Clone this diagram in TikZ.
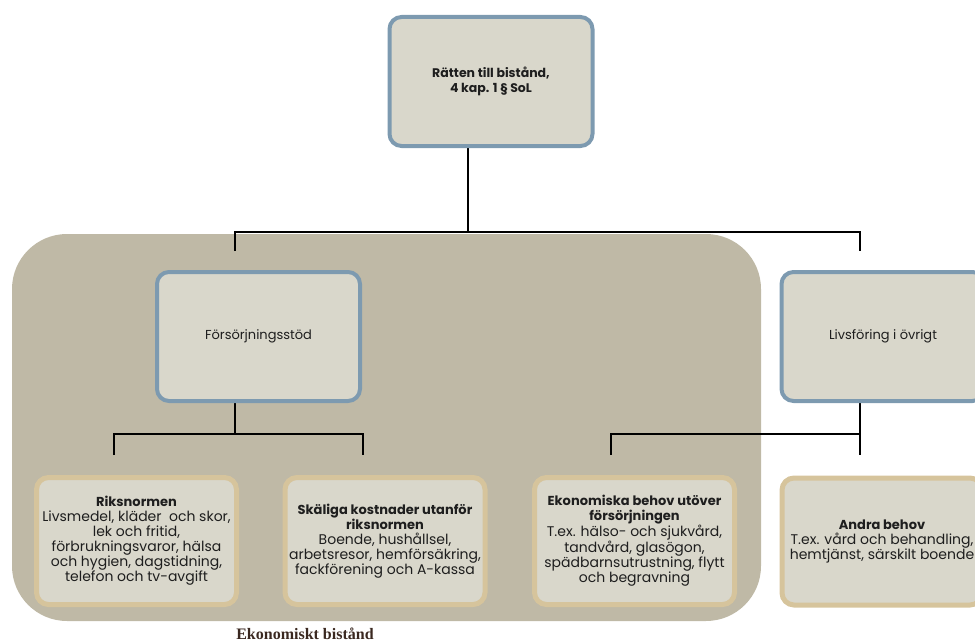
\documentclass[tikz,border=0pt]{standalone}
\usepackage{fontspec}
\setmainfont{Poppins}
\newfontfamily\labelfont{Liberation Serif}
\definecolor{bgc}{HTML}{BFB9A6}
\definecolor{boxfill}{HTML}{D9D7CB}
\definecolor{blueline}{HTML}{7D9AB0}
\definecolor{goldline}{HTML}{D6C49C}
\definecolor{txt}{HTML}{1E1E1E}
\definecolor{lbl}{HTML}{3A2820}
\pgfdeclarelayer{back}
\pgfsetlayers{back,main}
\newcommand{\hd}[1]{{\fontsize{13}{15}\selectfont\bfseries #1}}
\begin{document}
\begin{tikzpicture}[x=1pt,y=-1pt,
  bluebox/.style={draw=blueline, line width=4pt, fill=boxfill, rounded corners=12pt,
    minimum width=203pt, minimum height=129pt, inner sep=0pt, align=center, text=txt,
    font=\fontsize{13}{15}\selectfont},
  goldbox/.style={draw=goldline, line width=5pt, fill=boxfill, rounded corners=12pt,
    minimum width=200pt, minimum height=127pt, inner sep=0pt, align=center, text=txt,
    font=\fontsize{14}{15}\selectfont},
  conn/.style={draw=black, line width=1.5pt}]
\useasboundingbox (0,0) rectangle (975,642);
\clip (0,0) rectangle (975,642);

\node[bluebox, font=\bfseries\fontsize{12.5}{15.5}\selectfont] (top) at (491,81.5) {Rätten till bistånd,\\4 kap. 1 § SoL};
\node[bluebox] (fs) at (258.5,336.5) {Försörjningsstöd};
\node[bluebox] (lf) at (883,336.5) {Livsföring i övrigt};

\node[goldbox] (rn) at (136.5,541) {\hd{Riksnormen}\\Livsmedel, kläder\ \ och skor,\\lek och fritid,\\förbrukningsvaror, hälsa\\och hygien, dagstidning,\\telefon och tv-avgift};
\node[goldbox] (sk) at (385,541) {\hd{Skäliga kostnader utanför}\\\hd{riksnormen}\\Boende, hushållsel,\\arbetsresor, hemförsäkring,\\fackförening och A-kassa};
\node[goldbox] (eb) at (634.5,541) {\hd{Ekonomiska behov utöver}\\\hd{försörjningen}\\T.ex. hälso- och sjukvård,\\tandvård, glasögon,\\spädbarnsutrustning, flytt\\och begravning};
\node[goldbox] (ab) at (882,541.5) {\hd{Andra behov}\\T.ex. vård och behandling,\\hemtjänst, särskilt boende};

\node[anchor=base, text=lbl, font=\labelfont\bfseries\fontsize{16}{18}\selectfont] (lab) at (305,639) {Ekonomiskt bistånd};

\coordinate (c0) at (468,232);
\coordinate (c1) at (235,232);
\coordinate (c1e) at (235,251);
\coordinate (c2) at (860,232);
\coordinate (c2e) at (860,251);
\coordinate (d0) at (235,434);
\coordinate (d1) at (114,434);
\coordinate (d1e) at (114,455);
\coordinate (d2) at (363,434);
\coordinate (d2e) at (363,455);
\coordinate (e0) at (860,434);
\coordinate (e1) at (611,434);
\coordinate (e1e) at (611,455);
\coordinate (e2e) at (860,455);

\begin{pgfonlayer}{back}
  \fill[bgc, rounded corners=55pt] (12,234) rectangle (761,621);
  \draw[conn] (c0 |- top.south) -- (c0);
  \draw[conn] (c1e) -- (c1) -- (c2) -- (c2e);
  \draw[conn] (d0 |- fs.south) -- (d0);
  \draw[conn] (d1e) -- (d1) -- (d2) -- (d2e);
  \draw[conn] (e0 |- lf.south) -- (e2e);
  \draw[conn] (e0) -- (e1) -- (e1e);
\end{pgfonlayer}
\end{tikzpicture}
\end{document}
